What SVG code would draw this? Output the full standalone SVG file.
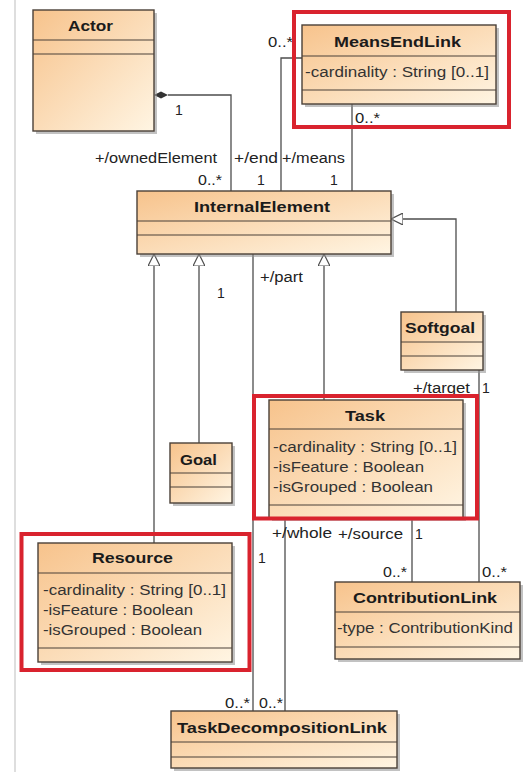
<svg xmlns="http://www.w3.org/2000/svg" width="523" height="772" viewBox="0 0 523 772">
<style>
.box{fill:url(#g);stroke:#4a4038;stroke-width:1.4}
.sh{fill:#8f8f8f;opacity:.55}
.sep{stroke:#4a4038;stroke-width:1.2}
.red{fill:none;stroke:#d9232e;stroke-width:4}
.t{font-family:"Liberation Sans",Arial,sans-serif;font-weight:bold;font-size:15px;fill:#1b1b1b}
.a{font-family:"Liberation Sans",Arial,sans-serif;font-size:14px;fill:#333}
.l{font-family:"Liberation Sans",Arial,sans-serif;font-size:14px;fill:#222}
.c{fill:none;stroke:#4d4d4d;stroke-width:1.3}
</style>
<defs>
<linearGradient id="g" x1="0" y1="0" x2="1" y2="1">
<stop offset="0" stop-color="#f7c38c"/>
<stop offset="1" stop-color="#fff5e3"/>
</linearGradient>
<marker id="gen" viewBox="0 0 12 12" refX="0" refY="6" markerWidth="12" markerHeight="12" markerUnits="userSpaceOnUse" orient="auto">
<path d="M0,0 L12,6 L0,12 z" fill="#fff" stroke="#4d4d4d" stroke-width="1.2"/>
</marker>
<marker id="dia" viewBox="-14 0 14 8" refX="0" refY="4" markerWidth="14" markerHeight="8" markerUnits="userSpaceOnUse" orient="auto">
<path d="M0,4 L-7,0.5 L-14,4 L-7,7.5 z" fill="#333"/>
</marker>
</defs>
<rect width="523" height="772" fill="#fff"/>
<line x1="15" y1="0" x2="15" y2="772" stroke="#c8c8c8" stroke-width="1.2"/>

<g id="connectors">
<path class="c" d="M168,95 H231 V191" marker-start="url(#dia)"/>
<path class="c" d="M302,58 H281 V191"/>
<path class="c" d="M352,104 V191"/>
<path class="c" d="M456,312 V219 H403" marker-end="url(#gen)"/>
<path class="c" d="M154,543 V266" marker-end="url(#gen)"/>
<path class="c" d="M199,443 V266" marker-end="url(#gen)"/>
<path class="c" d="M324,400 V266" marker-end="url(#gen)"/>
<path class="c" d="M253,254 V711"/>
<path class="c" d="M285,518 V711"/>
<path class="c" d="M412,518 V582"/>
<path class="c" d="M479,370 V582"/>
</g>

<g id="labels">
<text class="l" x="175" y="115">1</text>
<text class="l" x="95" y="163" textLength="122" lengthAdjust="spacingAndGlyphs">+/ownedElement</text>
<text class="l" x="198" y="185" textLength="24" lengthAdjust="spacingAndGlyphs">0..*</text>
<text class="l" x="234" y="163" textLength="44" lengthAdjust="spacingAndGlyphs">+/end</text>
<text class="l" x="257" y="185">1</text>
<text class="l" x="282" y="163" textLength="63" lengthAdjust="spacingAndGlyphs">+/means</text>
<text class="l" x="330" y="185">1</text>
<text class="l" x="268" y="47" textLength="25" lengthAdjust="spacingAndGlyphs">0..*</text>
<text class="l" x="355" y="123" textLength="25" lengthAdjust="spacingAndGlyphs">0..*</text>
<text class="l" x="260" y="282" textLength="43" lengthAdjust="spacingAndGlyphs">+/part</text>
<text class="l" x="217" y="298">1</text>
<text class="l" x="413" y="393" textLength="57" lengthAdjust="spacingAndGlyphs">+/target</text>
<text class="l" x="482" y="393">1</text>
<text class="l" x="272" y="538" textLength="60" lengthAdjust="spacingAndGlyphs">+/whole</text>
<text class="l" x="338" y="539" textLength="65" lengthAdjust="spacingAndGlyphs">+/source</text>
<text class="l" x="415" y="539">1</text>
<text class="l" x="258" y="563">1</text>
<text class="l" x="383" y="577" textLength="24" lengthAdjust="spacingAndGlyphs">0..*</text>
<text class="l" x="482" y="577" textLength="25" lengthAdjust="spacingAndGlyphs">0..*</text>
<text class="l" x="225" y="708" textLength="25" lengthAdjust="spacingAndGlyphs">0..*</text>
<text class="l" x="259" y="708" textLength="24" lengthAdjust="spacingAndGlyphs">0..*</text>
</g>

<g id="Actor">
<rect class="sh" x="36" y="13" width="121" height="121"/>
<rect class="box" x="33" y="10" width="121" height="121"/>
<line class="sep" x1="33" y1="40" x2="154" y2="40"/>
<line class="sep" x1="33" y1="54" x2="154" y2="54"/>
<text class="t" x="68" y="31" textLength="45" lengthAdjust="spacingAndGlyphs">Actor</text>
</g>

<g id="MeansEndLink">
<rect class="sh" x="305" y="28" width="194" height="79"/>
<rect class="box" x="302" y="25" width="194" height="79"/>
<line class="sep" x1="302" y1="56" x2="496" y2="56"/>
<line class="sep" x1="302" y1="90" x2="496" y2="90"/>
<text class="t" x="334" y="47" textLength="127" lengthAdjust="spacingAndGlyphs">MeansEndLink</text>
<text class="a" x="305" y="77" textLength="184" lengthAdjust="spacingAndGlyphs">-cardinality : String [0..1]</text>
<rect class="red" x="294" y="12" width="215" height="115"/>
</g>

<g id="InternalElement">
<rect class="sh" x="140" y="194" width="254" height="63"/>
<rect class="box" x="137" y="191" width="254" height="63"/>
<line class="sep" x1="137" y1="221" x2="391" y2="221"/>
<line class="sep" x1="137" y1="235" x2="391" y2="235"/>
<text class="t" x="194" y="212" textLength="136" lengthAdjust="spacingAndGlyphs">InternalElement</text>
</g>

<g id="Softgoal">
<rect class="sh" x="404" y="315" width="82" height="58"/>
<rect class="box" x="401" y="312" width="82" height="58"/>
<line class="sep" x1="401" y1="342" x2="483" y2="342"/>
<line class="sep" x1="401" y1="356" x2="483" y2="356"/>
<text class="t" x="405" y="333" textLength="70" lengthAdjust="spacingAndGlyphs">Softgoal</text>
</g>

<g id="Task">
<rect class="sh" x="272" y="403" width="194" height="118"/>
<rect class="box" x="269" y="400" width="194" height="118"/>
<line class="sep" x1="269" y1="429" x2="463" y2="429"/>
<line class="sep" x1="269" y1="505" x2="463" y2="505"/>
<text class="t" x="345" y="421" textLength="40" lengthAdjust="spacingAndGlyphs">Task</text>
<text class="a" x="273" y="452" textLength="184" lengthAdjust="spacingAndGlyphs">-cardinality : String [0..1]</text>
<text class="a" x="273" y="472" textLength="151" lengthAdjust="spacingAndGlyphs">-isFeature : Boolean</text>
<text class="a" x="273" y="492" textLength="160" lengthAdjust="spacingAndGlyphs">-isGrouped : Boolean</text>
<rect class="red" x="254" y="396" width="223" height="122.5"/>
</g>

<g id="Goal">
<rect class="sh" x="173" y="446" width="62" height="60"/>
<rect class="box" x="170" y="443" width="62" height="60"/>
<line class="sep" x1="170" y1="473" x2="232" y2="473"/>
<line class="sep" x1="170" y1="487" x2="232" y2="487"/>
<text class="t" x="180" y="465" textLength="37" lengthAdjust="spacingAndGlyphs">Goal</text>
</g>

<g id="Resource">
<rect class="sh" x="41" y="546" width="194" height="119"/>
<rect class="box" x="38" y="543" width="194" height="119"/>
<line class="sep" x1="38" y1="573" x2="232" y2="573"/>
<line class="sep" x1="38" y1="648" x2="232" y2="648"/>
<text class="t" x="92" y="563" textLength="81" lengthAdjust="spacingAndGlyphs">Resource</text>
<text class="a" x="43" y="595" textLength="183" lengthAdjust="spacingAndGlyphs">-cardinality : String [0..1]</text>
<text class="a" x="43" y="615" textLength="150" lengthAdjust="spacingAndGlyphs">-isFeature : Boolean</text>
<text class="a" x="43" y="635" textLength="159" lengthAdjust="spacingAndGlyphs">-isGrouped : Boolean</text>
<rect class="red" x="21.5" y="534" width="228" height="136"/>
</g>

<g id="ContributionLink">
<rect class="sh" x="338" y="585" width="185" height="77"/>
<rect class="box" x="335" y="582" width="185" height="77"/>
<line class="sep" x1="335" y1="612" x2="520" y2="612"/>
<line class="sep" x1="335" y1="647" x2="520" y2="647"/>
<text class="t" x="353" y="603" textLength="144" lengthAdjust="spacingAndGlyphs">ContributionLink</text>
<text class="a" x="337" y="633" textLength="176" lengthAdjust="spacingAndGlyphs">-type : ContributionKind</text>
</g>

<g id="TaskDecompositionLink">
<rect class="sh" x="174" y="714" width="226" height="57"/>
<rect class="box" x="171" y="711" width="226" height="57"/>
<line class="sep" x1="171" y1="742" x2="397" y2="742"/>
<line class="sep" x1="171" y1="757" x2="397" y2="757"/>
<text class="t" x="177" y="733" textLength="210" lengthAdjust="spacingAndGlyphs">TaskDecompositionLink</text>
</g>
</svg>
